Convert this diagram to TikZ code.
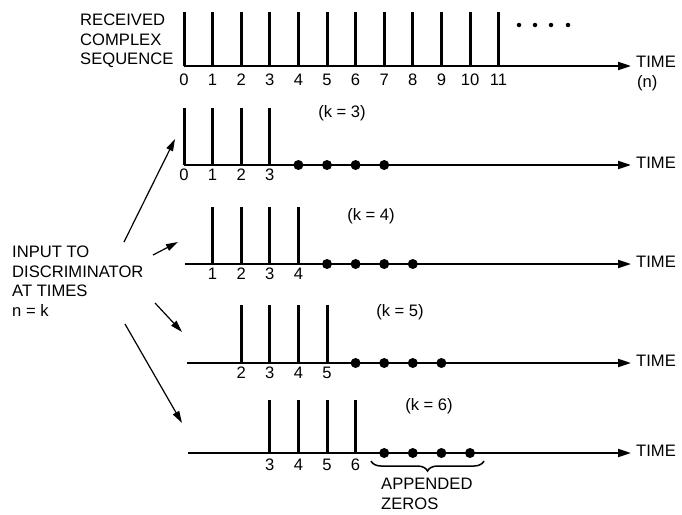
\documentclass[tikz,border=0pt]{standalone}
\usepackage{fontspec}
\setmainfont{Liberation Sans}
\usetikzlibrary{arrows.meta,decorations.pathreplacing}
\begin{document}
\begin{tikzpicture}[x=1pt,y=-1pt,
  txt/.style={font=\fontsize{16.6}{19.6}\selectfont, inner sep=0pt},
  axisline/.style={line width=2pt,-{Triangle[length=13pt,width=8pt]}},
  stemline/.style={line width=3pt},
  zerodot/.style={circle,fill=black,inner sep=0pt,minimum size=10pt},
  moredot/.style={circle,fill=black,inner sep=0pt,minimum size=4.5pt},
  pointer/.style={line width=1.2pt,-{Triangle[length=12pt,width=7pt]}},
  bracestyle/.style={line width=1.5pt,decorate,decoration={brace,mirror,amplitude=10pt}}
]
\useasboundingbox (0,0) rectangle (682,514);

% top row: received sequence
\node[txt,anchor=north west,align=left] (recv) at (80,14) {RECEIVED\\COMPLEX\\SEQUENCE};
\coordinate (r0s) at (184,66);
\coordinate (r0e) at (631,66);
\draw[axisline] (r0s) -- (r0e);
\foreach \n in {0,...,11} {
  \pgfmathsetmacro\xx{184+28.6*\n}
  \coordinate (top-b\n) at (\xx,66);
  \coordinate (top-t\n) at (\xx,12);
  \draw[stemline] (top-b\n) -- (top-t\n);
  \node[txt] (top-l\n) at (\xx,80) {\n};
}
\foreach \xx [count=\i] in {519,535,551,568} {
  \node[moredot] (more\i) at (\xx,25) {};
}
\node[txt,anchor=west] (time0) at (636,62) {TIME};
\node[txt,anchor=west] (timen) at (637,83) {(n)};

% rows k = 3..6
\foreach \k/\base/\top/\start/\kx/\ky/\off in
   {3/165/108/184/342/113/10, 4/264/207/185/371/216/10, 5/363/305/187/400/312/10, 6/453/400/188/429/406/12} {
  \coordinate (row\k-s) at (\start,\base);
  \coordinate (row\k-e) at (631,\base);
  \draw[axisline] (row\k-s) -- (row\k-e);
  \node[txt,anchor=west] (time\k) at (636,\base-2) {TIME};
  \node[txt] (klab\k) at (\kx,\ky) {(k = \k)};
  \foreach \j in {0,1,2,3} {
    \pgfmathtruncatemacro\n{\k-3+\j}
    \pgfmathsetmacro\xx{184+28.6*\n}
    \coordinate (row\k-b\n) at (\xx,\base);
    \coordinate (row\k-t\n) at (\xx,\top);
    \draw[stemline] (row\k-b\n) -- (row\k-t\n);
    \node[txt] (row\k-l\n) at (\xx,\base+\off) {\n};
    \pgfmathsetmacro\zx{184+28.6*(\k+1+\j)}
    \node[zerodot] (row\k-z\j) at (\zx,\base) {};
  }
}

% input label and pointers
\node[txt,anchor=north west,align=left] (input) at (12,246) {INPUT TO\\DISCRIMINATOR\\AT TIMES\\n = k};
\coordinate (p1s) at (124,242); \coordinate (p1e) at (175,139);
\coordinate (p2s) at (153,255); \coordinate (p2e) at (178,242);
\coordinate (p3s) at (155,303); \coordinate (p3e) at (182,332);
\coordinate (p4s) at (125,324); \coordinate (p4e) at (182,423);
\draw[pointer] (p1s) -- (p1e);
\draw[pointer] (p2s) -- (p2e);
\draw[pointer] (p3s) -- (p3e);
\draw[pointer] (p4s) -- (p4e);

% appended zeros brace
\coordinate (bl) at (371,461);
\coordinate (br) at (484,461);
\draw[bracestyle] (bl) -- (br);
\node[txt,anchor=north west,align=left] (appended) at (381,478) {APPENDED\\ZEROS};
\end{tikzpicture}
\end{document}
